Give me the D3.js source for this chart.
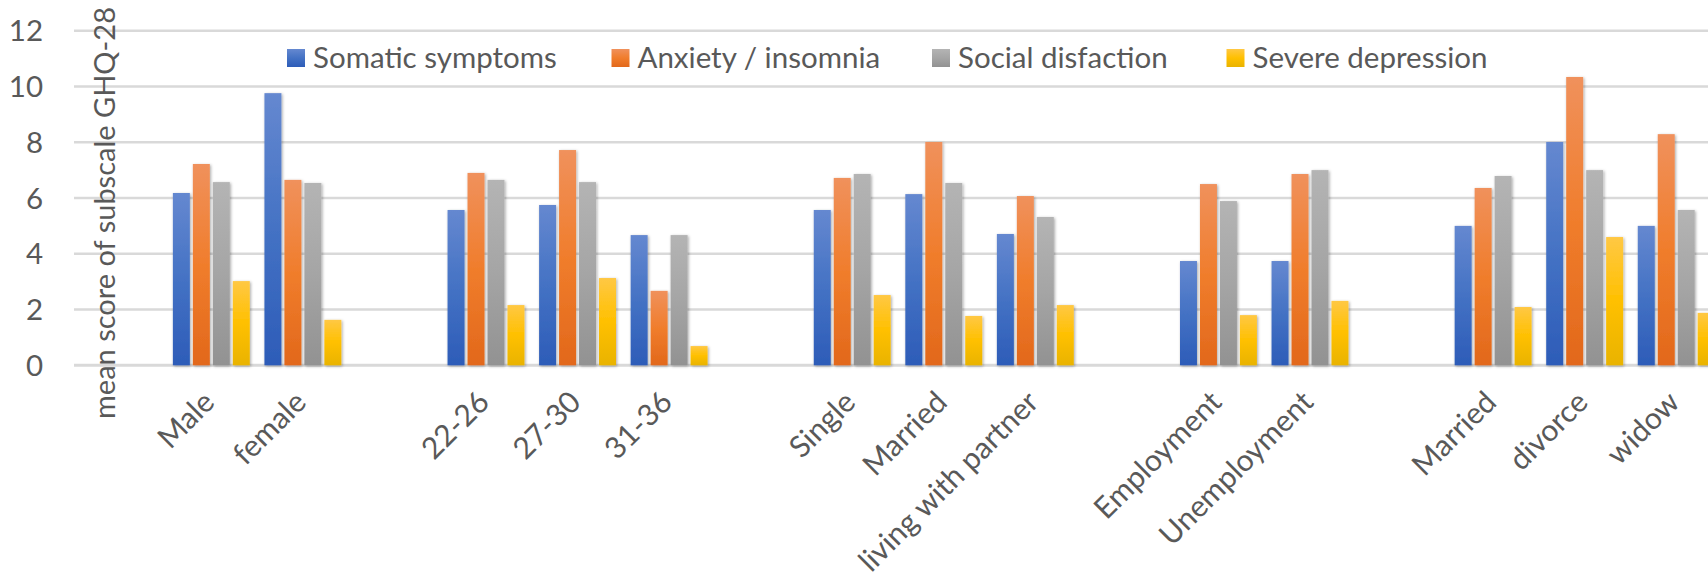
<!DOCTYPE html>
<html>
<head>
<meta charset="utf-8">
<script src="https://cdn.jsdelivr.net/npm/d3@7"></script>
<style>
    body { margin: 0; background: #fff; }
    svg { display: block; font-family: Lato, "Open Sans", sans-serif; }
    .tick-label, .legend-label, .axis-title { fill: #595959; }
    .grid line { stroke: #d9d9d9; stroke-width: 2.5; }
</style>
</head>
<body>
<svg id="chart" width="1708" height="582"></svg>
<script>
// categories, empty strings are the blank slots between the groups
var categories = ["", "Male", "female", "", "22-26", "27-30", "31-36", "", "Single", "Married",
    "living with partner", "", "Employment", "Unemployment", "", "Married", "divorce", "widow"];
var seriesNames = ["Somatic symptoms", "Anxiety / insomnia", "Social disfaction", "Severe depression"];

var somatic    = [null, 6.18, 9.76, null, 5.57, 5.75, 4.67, null, 5.57, 6.14, 4.71, null, 3.74, 3.74, null, 5.00, 8.01, 5.00];
var anxiety    = [null, 7.22, 6.65, null, 6.90, 7.72, 2.67, null, 6.72, 8.01, 6.07, null, 6.50, 6.86, null, 6.36, 10.34, 8.29];
var social     = [null, 6.57, 6.54, null, 6.65, 6.57, 4.67, null, 6.86, 6.54, 5.32, null, 5.89, 7.00, null, 6.79, 7.00, 5.57];
var depression = [null, 3.02, 1.63, null, 2.16, 3.13, 0.69, null, 2.52, 1.77, 2.16, null, 1.80, 2.31, null, 2.09, 4.60, 1.88];

var yTicks = [0, 2, 4, 6, 8, 10, 12];

/** Class drawing the grouped bar chart. */
class BarChart {
    constructor() {
        this.svg = d3.select('#chart');
        this.values = [somatic, anxiety, social, depression];
        // top / mid / bottom colours of the bar gradients
        this.colors = [
            ['#6588d0', '#4472c4', '#2d5cb8'],
            ['#f0915c', '#f07d2c', '#e2681b'],
            ['#b4b4b4', '#a5a5a5', '#929292'],
            ['#ffc844', '#ffc000', '#e9b300']
        ];

        this.x = d3.scaleBand().domain(d3.range(categories.length)).range([74, 1722]);
        var bw = this.x.bandwidth();
        this.xs = d3.scaleBand().domain(d3.range(4)).range([bw * 0.08, bw * 0.92]).paddingInner(0.15);
        this.y = d3.scaleLinear().domain([0, 12]).range([365.3, 30.7]);
    }

    /**
     * Gradients and the soft shadow under the bars
     */
    defs() {
        var defs = this.svg.append('defs');
        this.colors.forEach(function (c, i) {
            var g = defs.append('linearGradient')
                .attr('id', 'grad' + i)
                .attr('x1', 0).attr('y1', 0).attr('x2', 0).attr('y2', 1);
            g.append('stop').attr('offset', '0%').attr('stop-color', c[0]);
            g.append('stop').attr('offset', '50%').attr('stop-color', c[1]);
            g.append('stop').attr('offset', '100%').attr('stop-color', c[2]);
        });
        defs.append('filter')
            .attr('id', 'shadow')
            .attr('x', '-30%').attr('y', '-10%').attr('width', '160%').attr('height', '130%')
            .append('feDropShadow')
            .attr('dx', 1).attr('dy', 1)
            .attr('stdDeviation', 1.8)
            .attr('flood-color', '#000')
            .attr('flood-opacity', 0.35);
    }

    /**
     * Gridlines and y tick labels
     */
    drawAxes() {
        var y = this.y;
        var grid = this.svg.append('g').attr('class', 'grid');
        grid.selectAll('line')
            .data(yTicks)
            .enter()
            .append('line')
            .attr('x1', 74)
            .attr('x2', 1708)
            .attr('y1', function (d) { return y(d); })
            .attr('y2', function (d) { return y(d); })
            .style('stroke-width', function (d) { return d === 0 ? 3 : 2.5; });

        this.svg.append('g')
            .selectAll('text')
            .data(yTicks)
            .enter()
            .append('text')
            .attr('class', 'tick-label')
            .attr('x', 43)
            .attr('y', function (d) { return y(d); })
            .attr('dy', '0.36em')
            .attr('text-anchor', 'end')
            .style('font-size', '29.5px')
            .text(function (d) { return d; });

        this.svg.append('text')
            .attr('class', 'axis-title')
            .attr('transform', 'translate(115,213) rotate(-90)')
            .attr('text-anchor', 'middle')
            .style('font-size', '29px')
            .text('mean score of subscale GHQ-28');
    }

    /**
     * Bars and the rotated category labels
     */
    drawBars() {
        var x = this.x, xs = this.xs, y = this.y;
        var self = this;

        this.values.forEach(function (vals, s) {
            var pts = vals.map(function (v, i) { return {i: i, v: v}; })
                .filter(function (d) { return d.v !== null; });
            self.svg.append('g')
                .attr('filter', 'url(#shadow)')
                .selectAll('rect')
                .data(pts)
                .enter()
                .append('rect')
                .attr('x', function (d) { return x(d.i) + xs(s); })
                .attr('y', function (d) { return y(d.v); })
                .attr('width', xs.bandwidth())
                .attr('height', function (d) { return y(0) - y(d.v); })
                .attr('fill', 'url(#grad' + s + ')');
        });

        var labels = categories.map(function (c, i) { return {i: i, c: c}; })
            .filter(function (d) { return d.c !== ''; });
        this.svg.append('g')
            .selectAll('text')
            .data(labels)
            .enter()
            .append('text')
            .attr('class', 'tick-label')
            .attr('transform', function (d) {
                return 'translate(' + (x(d.i) + x.bandwidth() / 2 + 5) + ',404) rotate(-45)';
            })
            .attr('text-anchor', 'end')
            .style('font-size', '30px')
            .text(function (d) { return d.c; });
    }

    /**
     * Legend inside the plot, on top
     */
    drawLegend() {
        var legendX = [287, 611.5, 932, 1226.5];
        var leg = this.svg.append('g')
            .selectAll('g')
            .data(seriesNames)
            .enter()
            .append('g')
            .attr('transform', function (d, i) { return 'translate(' + legendX[i] + ',49)'; });
        leg.append('rect')
            .attr('width', 18)
            .attr('height', 18)
            .attr('fill', function (d, i) { return 'url(#grad' + i + ')'; });
        leg.append('text')
            .attr('class', 'legend-label')
            .attr('x', 26)
            .attr('y', 18.5)
            .style('font-size', '29.5px')
            .text(function (d) { return d; });
    }
}

var chart = new BarChart();
chart.defs();
chart.drawAxes();
chart.drawBars();
chart.drawLegend();
</script>
</body>
</html>
